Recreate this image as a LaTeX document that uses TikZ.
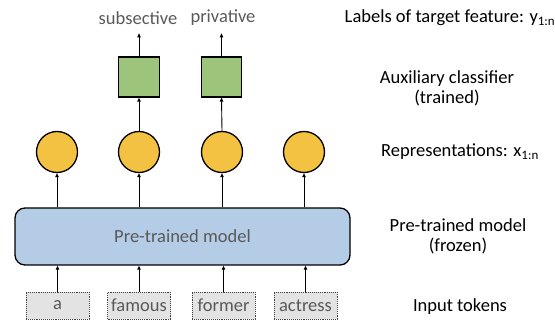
\documentclass[tikz,border=0pt]{standalone}
\usepackage{fontspec}
\setmainfont{Carlito}
\usetikzlibrary{arrows.meta}
\definecolor{repcol}{HTML}{F4C242}
\definecolor{clscol}{HTML}{9DC47B}
\definecolor{modcol}{HTML}{B4CCE6}
\definecolor{tokcol}{HTML}{E3E3E3}
\definecolor{txtgray}{HTML}{595959}
\begin{document}
\begin{tikzpicture}[x=1pt,y=-1pt,
  every node/.style={font=\fontsize{18.5}{21}\selectfont},
  rep/.style={circle,draw=black,line width=1.3pt,fill=repcol,minimum size=41pt,inner sep=0pt},
  cls/.style={rectangle,draw=black,line width=1.3pt,fill=clscol,minimum width=40.5pt,minimum height=40pt,inner sep=0pt},
  tok/.style={rectangle,draw=black!75,densely dotted,line width=0.9pt,fill=tokcol,minimum width=63pt,minimum height=27pt,inner sep=0pt,text=txtgray},
  lab/.style={text=txtgray},
  side/.style={text=black,align=center},
  arr/.style={-{Triangle[length=4pt,width=3.5pt]},line width=0.9pt}]
\useasboundingbox (0,0) rectangle (555,320);
% model
\node[draw=black,line width=1.3pt,fill=modcol,rounded corners=10pt,minimum width=335pt,minimum height=57pt,inner sep=0pt,text=txtgray] (model) at (182.5,236.5) {Pre-trained model};
% tokens
\node[tok] (t1) at (57.5,305.5) {a};
\node[tok] (t2) at (139,305.5) {famous};
\node[tok] (t3) at (223.5,305.5) {former};
\node[tok] (t4) at (305.5,305.5) {actress};
% representations
\node[rep] (r1) at (57,152) {};
\node[rep] (r2) at (139,152) {};
\node[rep] (r3) at (222,152) {};
\node[rep] (r4) at (304,152) {};
% classifiers
\node[cls] (c2) at (139,77) {};
\node[cls] (c3) at (221.5,77) {};
% labels
\node[lab] (l2) at (138,18) {subsective};
\node[lab] (l3) at (223,18) {privative};
% connectors
\foreach \i in {1,2,3,4} {
  \draw[arr] (t\i.north) -- (t\i.north |- model.south);
  \draw[arr] (r\i.south |- model.north) -- (r\i.south);
}
\draw[arr] (r2.north) -- (c2.south);
\draw[arr] (r3.north) -- (c3.south);
\draw[arr] (c2.north) -- ++(0,-23) coordinate (e2);
\draw[arr] (c3.north) -- ++(0,-23) coordinate (e3);
% side labels
\node[side] (s1) at (450,18) {Labels of target feature: y\textsubscript{1:n}};
\node[side] (s2) at (447,88) {Auxiliary classifier\\[-1pt](trained)};
\node[side] (s3) at (460,152) {Representations: x\textsubscript{1:n}};
\node[side] (s4) at (458,236.5) {Pre-trained model\\[-1pt](frozen)};
\node[side] (s5) at (460,307) {Input tokens};
\end{tikzpicture}
\end{document}
